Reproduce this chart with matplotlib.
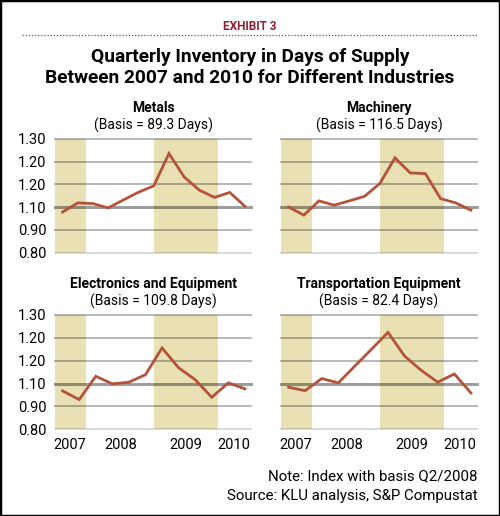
import numpy as np
import matplotlib
matplotlib.use("Agg")
import matplotlib.pyplot as plt
from matplotlib.lines import Line2D
from matplotlib.patches import Rectangle

plt.rcParams['font.family'] = ['Roboto', 'DejaVu Sans']

# index values (basis Q2/2008 = 1.00)
metals = [0.979, 1.019, 1.016, 0.997, 1.032, 1.066, 1.094, 1.236, 1.133, 1.075, 1.043, 1.065, 1.004]
machinery = [1.001, 0.965, 1.028, 1.009, 1.028, 1.048, 1.104, 1.217, 1.151, 1.148, 1.038, 1.019, 0.987]
electronics = [0.968, 0.930, 1.032, 0.999, 1.006, 1.039, 1.156, 1.069, 1.017, 0.940, 1.003, 0.977]
transport = [0.984, 0.969, 1.022, 1.003, 1.077, 1.150, 1.224, 1.120, 1.058, 1.006, 1.042, 0.959]

panels = [
    ("Metals", "(Basis = 89.3 Days)", metals),
    ("Machinery", "(Basis = 116.5 Days)", machinery),
    ("Electronics and Equipment", "(Basis = 109.8 Days)", electronics),
    ("Transportation Equipment", "(Basis = 82.4 Days)", transport),
]

y_ticks = [0.8, 0.9, 1.0, 1.1, 1.2, 1.3]
y_labels = ["0.80", "0.90", "1.10", "1.20", "1.20", "1.30"]   # as printed in the original
years = ["2007", "2008", "2009", "2010"]
year_pos = [0.5, 3.8, 8.1, 11.3]
bands = [(-0.5, 1.52), (6.0, 10.25)]

line_col = "#b5533a"
band_col = "#e9e0b4"

fig = plt.figure(figsize=(5.0, 5.16), dpi=100)

W, H = 500, 516
def px_axes(x0, y0, x1, y1):
    return fig.add_axes([x0 / W, 1 - y1 / H, (x1 - x0) / W, (y1 - y0) / H])

boxes = [(55, 139, 251, 252.7), (281, 139, 477, 252.7),
         (55, 315, 251, 429.3), (281, 315, 477, 429.3)]

for i, ((name, basis, vals), box) in enumerate(zip(panels, boxes)):
    ax = px_axes(*box)
    x = np.arange(len(vals)) * 12 / (len(vals) - 1)
    ax.set_xlim(-0.5, 12.4)
    ax.set_ylim(0.8, 1.3)
    for b0, b1 in bands:
        ax.axvspan(b0, b1, color=band_col, zorder=0, lw=0)
    for t in y_ticks:
        if t == 1.0:
            ax.axhline(t, color="black", alpha=0.38, lw=2.2, zorder=1, clip_on=False)
        elif t == 0.8:
            ax.axhline(t, color="black", alpha=0.18, lw=1.2, zorder=1, clip_on=False)
        else:
            ax.axhline(t, color="black", alpha=0.28, lw=1.4, zorder=1, clip_on=False)
    ax.plot(x, vals, color=line_col, lw=2.0, zorder=3, solid_joinstyle="miter")
    for s in ax.spines.values():
        s.set_visible(False)
    ax.tick_params(length=0)
    ax.set_yticks(y_ticks)
    if i % 2 == 0:
        ax.set_yticklabels(y_labels, fontsize=10.5)
        ax.tick_params(axis="y", pad=6)
    else:
        ax.set_yticklabels([])
    if i >= 2:
        ax.set_xticks(year_pos)
        ax.set_xticklabels(years, fontsize=10.5)
        ax.tick_params(axis="x", pad=6)
    else:
        ax.set_xticks([])
    cx = (box[0] + box[2]) / 2 / W
    fig.text(cx, 1 - (box[1] - 31) / H, name, ha="center", va="center",
             fontsize=10, fontweight="bold")
    fig.text(cx, 1 - (box[1] - 14) / H, basis, ha="center", va="center", fontsize=10)

fig.text(0.5, 1 - 26 / H, "EXHIBIT 3", ha="center", va="center",
         fontsize=8.5, fontweight="bold", color="#8e1f31")
fig.add_artist(Line2D([22 / W, 477 / W], [1 - 35 / H, 1 - 35 / H], color="#555555",
                      lw=0.9, ls=(0, (1, 1.5))))
fig.text(0.5, 1 - 57 / H, "Quarterly Inventory in Days of Supply", ha="center",
         va="center", fontsize=13.8, fontweight="bold")
fig.text(0.5, 1 - 78 / H, "Between 2007 and 2010 for Different Industries", ha="center",
         va="center", fontsize=13.8, fontweight="bold")

fig.text(478 / W, 1 - 476 / H, "Note: Index with basis Q2/2008", ha="right",
         va="center", fontsize=10.8)
fig.text(478 / W, 1 - 496 / H, "Source: KLU analysis, S&P Compustat", ha="right",
         va="center", fontsize=10.8)

fig.add_artist(Rectangle((0, 0), 1, 1, transform=fig.transFigure, fill=False,
                         ec="black", lw=2.5))

fig.savefig("out.png", dpi=100)
